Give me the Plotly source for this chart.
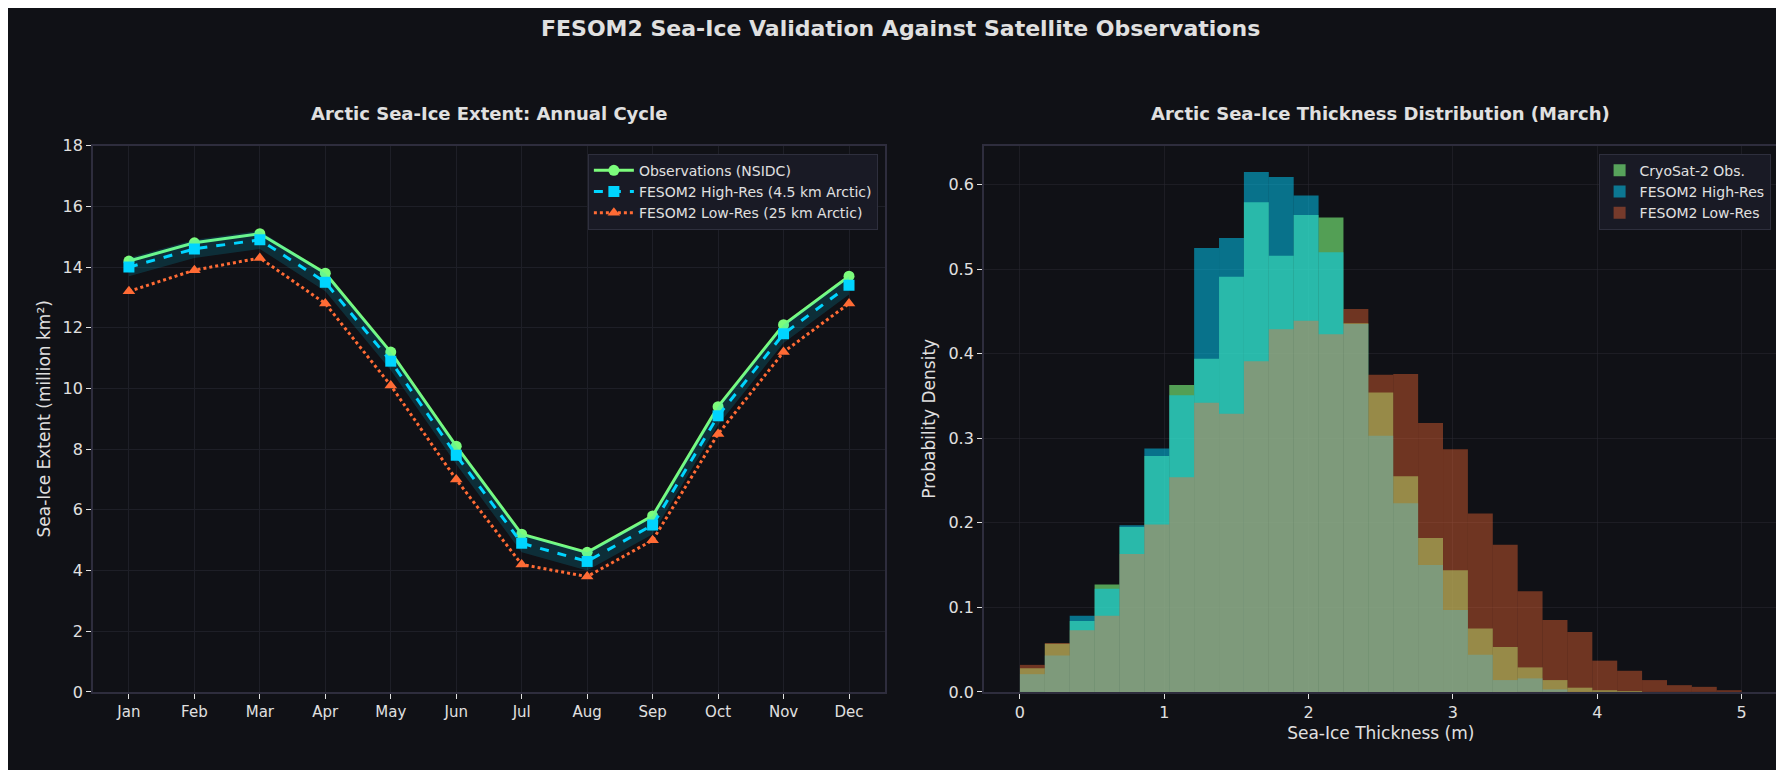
import numpy as np
import plotly.graph_objects as go

months = ["Jan","Feb","Mar","Apr","May","Jun","Jul","Aug","Sep","Oct","Nov","Dec"]
obs_extent = [14.2,14.8,15.1,13.8,11.2,8.1,5.2,4.6,5.8,9.4,12.1,13.7]
high_extent = [14.0,14.6,14.9,13.5,10.9,7.8,4.9,4.3,5.5,9.1,11.8,13.4]
low_extent = [13.2,13.9,14.3,12.8,10.1,7.0,4.2,3.8,5.0,8.5,11.2,12.8]
band_halfwidth = 0.3

bin_edges = np.linspace(0, 5, 30)
obs_density = [0.028,0.057,0.084,0.127,0.195,0.279,0.363,0.394,0.491,0.579,0.516,0.564,0.561,0.436,
               0.354,0.255,0.182,0.144,0.075,0.053,0.029,0.014,0.005,0.002,0.001,0,0,0,0]
high_density = [0.021,0.043,0.090,0.122,0.197,0.288,0.351,0.525,0.537,0.615,0.609,0.587,0.520,0.435,
                0.303,0.223,0.150,0.097,0.044,0.014,0.016,0.003,0,0,0,0,0,0,0]
low_density = [0.032,0.058,0.073,0.090,0.163,0.198,0.254,0.342,0.329,0.391,0.429,0.439,0.423,0.453,
               0.375,0.376,0.318,0.287,0.211,0.174,0.119,0.085,0.071,0.037,0.025,0.014,0.008,0.006,0.002]

BG = "#101116"
TXT = "#e0e0e0"
GRID = "#1e1f27"
AX = "#2e2d3d"
FONT = "DejaVu Sans"

fig = go.Figure()
x = list(range(12))
hb = np.array(high_extent)
fig.add_trace(go.Scatter(x=x, y=obs_extent, mode="lines+markers", name="Observations (NSIDC)",
                         line=dict(color="#7cfc7c", width=3), marker=dict(symbol="circle", size=11),
                         legend="legend", xaxis="x", yaxis="y"))
fig.add_trace(go.Scatter(x=x, y=list(hb + band_halfwidth), mode="lines", line=dict(width=0),
                         showlegend=False, hoverinfo="skip", xaxis="x", yaxis="y"))
fig.add_trace(go.Scatter(x=x, y=list(hb - band_halfwidth), mode="lines", line=dict(width=0),
                         fill="tonexty", fillcolor="rgba(0,212,255,0.15)",
                         showlegend=False, hoverinfo="skip", xaxis="x", yaxis="y"))
fig.add_trace(go.Scatter(x=x, y=high_extent, mode="lines+markers", name="FESOM2 High-Res (4.5 km Arctic)",
                         line=dict(color="#00d4ff", width=3, dash="dash"), marker=dict(symbol="square", size=11),
                         legend="legend", xaxis="x", yaxis="y"))
fig.add_trace(go.Scatter(x=x, y=low_extent, mode="lines+markers", name="FESOM2 Low-Res (25 km Arctic)",
                         line=dict(color="#ff6b35", width=3, dash="dot"), marker=dict(symbol="triangle-up", size=11),
                         legend="legend", xaxis="x", yaxis="y"))

centers = (bin_edges[:-1] + bin_edges[1:]) / 2
w = bin_edges[1] - bin_edges[0]
for name, vals, col in [("CryoSat-2 Obs.", obs_density, "rgba(128,255,128,0.6)"),
                        ("FESOM2 High-Res", high_density, "rgba(0,212,255,0.5)"),
                        ("FESOM2 Low-Res", low_density, "rgba(255,107,53,0.4)")]:
    fig.add_trace(go.Bar(x=list(centers), y=vals, width=w, name=name, marker=dict(color=col, line=dict(width=0)),
                         xaxis="x2", yaxis="y2", legend="legend2"))

axcommon = dict(showline=True, linecolor=AX, linewidth=1.5, mirror=True, gridcolor=GRID, gridwidth=1,
                zeroline=False, ticks="outside", tickcolor=TXT, ticklen=5,
                tickfont=dict(family=FONT, size=16, color=TXT))
fig.update_layout(
    width=1784, height=770, paper_bgcolor=BG, plot_bgcolor=BG, barmode="overlay",
    margin=dict(l=0, r=0, t=0, b=0), font=dict(family=FONT, color=TXT),
    xaxis=dict(domain=[0.0476, 0.4916], tickvals=x, ticktext=months, range=[-0.55, 11.55],
               **{**axcommon, "tickfont": dict(family=FONT, size=15, color=TXT)}),
    yaxis=dict(domain=[0.1013, 0.8286], range=[0, 18], dtick=2, anchor="x",
               title=dict(text="Sea-Ice Extent (million km²)", font=dict(family=FONT, size=17, color=TXT), standoff=8),
               **axcommon),
    xaxis2=dict(domain=[0.547, 0.992], range=[-0.25, 5.25], dtick=1, anchor="y2", layer="above traces",
                title=dict(text="Sea-Ice Thickness (m)", font=dict(family=FONT, size=17, color=TXT), standoff=6),
                **{**axcommon, "gridcolor": "rgba(40,40,50,0.55)"}),
    yaxis2=dict(domain=[0.1013, 0.8286], range=[0, 0.646], dtick=0.1, tickformat=".1f", anchor="x2",
                layer="above traces",
                title=dict(text="Probability Density", font=dict(family=FONT, size=17, color=TXT), standoff=8),
                **{**axcommon, "gridcolor": "rgba(40,40,50,0.55)"}),
    legend=dict(x=0.4876, y=0.818, xanchor="right", yanchor="top", bgcolor="#191a25", bordercolor="#2e2f3d",
                borderwidth=1, font=dict(family=FONT, size=14, color=TXT), itemwidth=40, traceorder="normal"),
    legend2=dict(x=0.988, y=0.818, xanchor="right", yanchor="top", bgcolor="#191a25", bordercolor="#2e2f3d",
                 borderwidth=1, font=dict(family=FONT, size=14, color=TXT), traceorder="normal"),
    annotations=[
        dict(text="<b>FESOM2 Sea-Ice Validation Against Satellite Observations</b>", x=0.5, y=0.985,
             xref="paper", yref="paper", xanchor="center", yanchor="middle", showarrow=False,
             font=dict(family=FONT, size=22, color=TXT)),
        dict(text="<b>Arctic Sea-Ice Extent: Annual Cycle</b>", x=0.2696, y=0.872, xref="paper", yref="paper",
             xanchor="center", yanchor="middle", showarrow=False, font=dict(family=FONT, size=18, color=TXT)),
        dict(text="<b>Arctic Sea-Ice Thickness Distribution (March)</b>", x=0.7695, y=0.872, xref="paper",
             yref="paper", xanchor="center", yanchor="middle", showarrow=False,
             font=dict(family=FONT, size=18, color=TXT)),
    ],
)
fig.write_html("out.html")
